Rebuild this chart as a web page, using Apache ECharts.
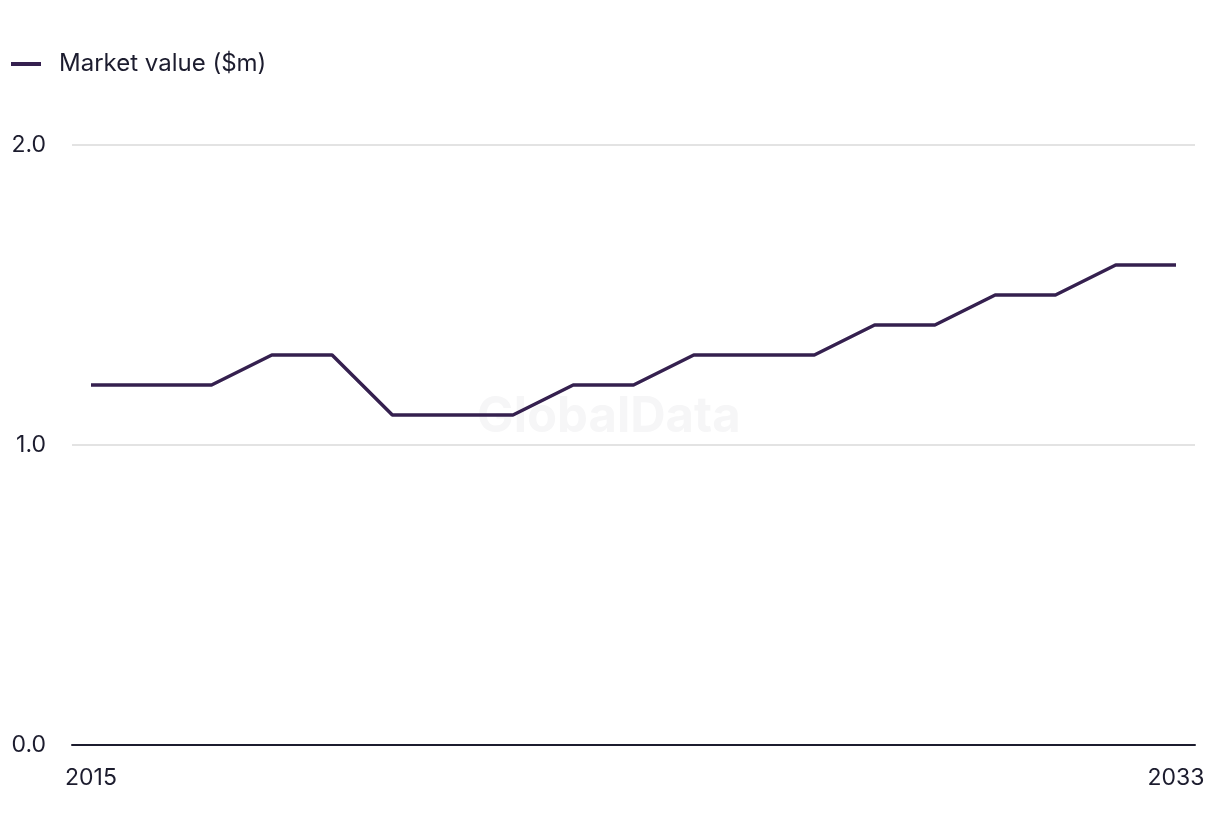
<!DOCTYPE html>
<html><head><meta charset="utf-8">
<script src="https://cdn.jsdelivr.net/npm/echarts@6/dist/echarts.min.js"></script>
<style>html,body{margin:0;padding:0;background:#fff}#c{width:1220px;height:836px}</style>
</head><body><div id="c"></div>
<script>
const years = [2015,2016,2017,2018,2019,2020,2021,2022,2023,2024,2025,2026,2027,2028,2029,2030,2031,2032,2033];
const marketValue = [1.2,1.2,1.2,1.3,1.3,1.1,1.1,1.1,1.2,1.2,1.3,1.3,1.3,1.4,1.4,1.5,1.5,1.6,1.6];
const seriesName = 'Market value ($m)';
const xTickLabels = [2015, 2033];

const font = 'Inter, "Noto Sans", sans-serif';
const chart = echarts.init(document.getElementById('c'), null, {renderer: 'canvas'});
chart.setOption({
  animation: false,
  graphic: [{
    type: 'text', left: 477, top: 393, z: 0, silent: true,
    style: {text: 'GlobalData', font: 'bold 49px ' + font, fill: '#f6f6f7'}
  }],
  legend: {
    left: 6, top: 47, itemWidth: 30, itemHeight: 4, itemGap: 20,
    icon: 'rect',
    textStyle: {fontFamily: font, fontSize: 24, color: '#1c1c2e', padding: [0,0,0,13]},
    data: [{name: seriesName}]
  },
  grid: {left: 72, right: 25, top: 145, bottom: 91, containLabel: false},
  xAxis: {
    type: 'value',
    min: 2014.685, max: 2033.315,
    axisLine: {show: true, lineStyle: {color: '#1c1c2e', width: 2}},
    axisTick: {show: false},
    splitLine: {show: false},
    axisLabel: {
      customValues: xTickLabels, margin: 22,
      fontFamily: font, fontSize: 23, color: '#1c1c2e',
      formatter: v => String(v)
    }
  },
  yAxis: {
    type: 'value', min: 0, max: 2, interval: 1,
    axisLine: {show: false}, axisTick: {show: false},
    splitLine: {lineStyle: {color: '#dadada', width: 1.5}},
    axisLabel: {
      margin: 26, fontFamily: font, fontSize: 23, color: '#1c1c2e',
      formatter: v => v.toFixed(1)
    }
  },
  series: [{
    name: seriesName, type: 'line', z: 3,
    data: years.map((y, i) => [y, marketValue[i]]),
    showSymbol: false, symbol: 'none',
    lineStyle: {color: '#35204f', width: 3.5},
    itemStyle: {color: '#35204f'}
  }]
});
</script></body></html>
